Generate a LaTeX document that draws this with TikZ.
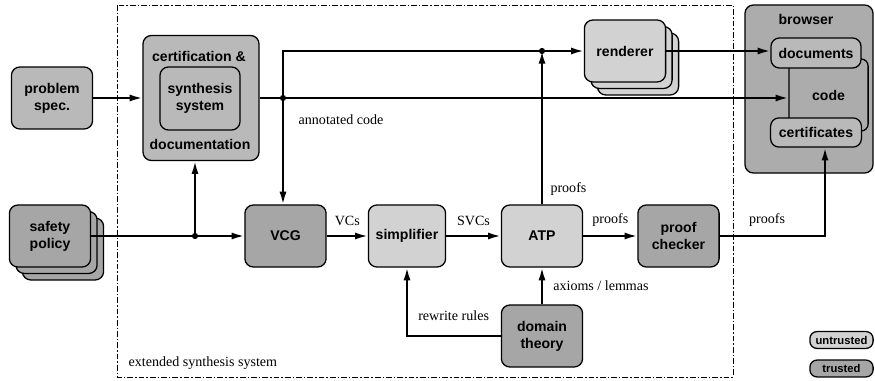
\documentclass[tikz,border=0pt]{standalone}
\usepackage{fontspec}
\setmainfont{Liberation Serif}
\setsansfont{Liberation Sans}
\usetikzlibrary{arrows.meta}

\tikzset{
  box/.style={draw, line width=0.9pt, rounded corners=6pt, font=\sffamily\bfseries, align=center, inner sep=2pt, minimum width=2.03cm, minimum height=1.55cm},
  untrusted/.style={box, fill=gray!35},
  trusted/.style={box, fill=gray!70},
  plain/.style={box, fill=gray!55},
  legend/.style={minimum width=1.58cm, minimum height=0.42cm, rounded corners=5pt, inner sep=1pt, font=\sffamily\bfseries\footnotesize},
  lbl/.style={font=\normalsize}
}

\begin{document}
\begin{tikzpicture}[x=0.025cm, y=-0.025cm, line width=0.05cm, >={Latex[length=9pt,width=5pt]}]
    \useasboundingbox (0,0) rectangle (875,381) ;
    \draw[dash pattern=on 4pt off 1.5pt on 1pt off 1.5pt, line width=0.6pt] (117,5) rectangle (733,377) ;
    \node[lbl, anchor=west] (ess) at (123,363) {extended synthesis system} ;

    \node[plain] (spec) at (52,98) {problem\\spec.} ;
    \node[plain, minimum width=2.9cm, minimum height=3.125cm] (cert) at (201,98) {} ;
    \node[plain, minimum width=2cm, minimum height=1.575cm] (synth) at (200,98.5) {synthesis\\system} ;
    \node[font=\sffamily\bfseries] (certl) at (199,56) {certification \&} ;
    \node[font=\sffamily\bfseries] (docl) at (200,144) {documentation} ;

    \node[untrusted] (renderer3) at (638,64) {} ;
    \node[untrusted] (renderer2) at (631.5,57.5) {} ;
    \node[untrusted] (renderer) at (625,51) {renderer} ;

    \node[box, fill=gray!65, minimum width=3.2cm, minimum height=4.2cm] (browser) at (809,89) {} ;
    \node[font=\sffamily\bfseries] (browserl) at (806,19) {browser} ;
    \node[draw, rounded corners=5pt, line width=0.9pt, minimum width=1.98cm, minimum height=1.8cm, font=\sffamily\bfseries] (code) at (828.5,95) {code} ;
    \node[box, fill=gray!55, minimum width=2.25cm, minimum height=0.75cm] (docs) at (816,53) {documents} ;
    \node[box, fill=gray!55, minimum width=2.27cm, minimum height=0.73cm] (certs) at (816,132.5) {certificates} ;

    \node[trusted] (safety3) at (63,249) {} ;
    \node[trusted] (safety2) at (56.5,242.5) {} ;
    \node[trusted] (safety) at (50,236) {safety\\policy} ;
    \node[trusted] (vcg) at (285.5,236) {VCG} ;
    \node[untrusted, minimum width=1.93cm] (simp) at (407,236) {simplifier} ;
    \node[untrusted] (atp) at (542,236) {ATP} ;
    \node[trusted] (checker) at (678.5,236) {proof\\checker} ;
    \node[trusted] (domain) at (542,336) {domain\\theory} ;

    \node[trusted, legend] (ltrusted) at (841.5,368.5) {trusted} ;
    \node[untrusted, legend] (luntrusted) at (841.5,340) {untrusted} ;

    \coordinate (ac) at (283,98) ;
    \coordinate (top) at (283,51) ;
    \coordinate (pr) at (atp.north |- renderer.west) ;
    \coordinate (sp) at (195,236) ;
    \coordinate (cb) at (825,236) ;
    \coordinate (rr) at (simp.south |- domain.west) ;

    \draw[->] (spec.east) -- (cert.west) ;
    \draw[->] (cert.east) -- (ac) -- (ac -| code.west) ;
    \node[lbl, anchor=west] (acl) at (293,120) {annotated code} ;
    \draw[->] (ac) -- (top) -- (pr) -- (renderer.west) ;
    \draw[->] (ac) -- (ac |- vcg.north) ;
    \draw[->] (renderer.east) -- (renderer.east -| docs.west) ;
    \draw[->] (safety.east) -- (sp) -- (vcg.west) ;
    \draw[->] (sp) -- (sp |- cert.south) ;
    \draw[->] (vcg.east) -- node[lbl, above=3pt] {VCs} (simp.west) ;
    \draw[->] (simp.east) -- node[lbl, above=3pt] {SVCs} (atp.west) ;
    \draw[->] (atp.east) -- node[lbl, above=3pt] {proofs} (checker.west) ;
    \draw[->] (atp.north) -- node[lbl, pos=0.1, right=2pt] {proofs} (pr) ;
    \draw[->] (checker.east) -- node[lbl, pos=0.45, above=3pt] {proofs} (cb) -- (cb |- certs.south) ;
    \draw[->] (domain.north) -- node[lbl, right=4pt] {axioms / lemmas} (atp.south) ;
    \draw[->] (domain.west) -- (rr) -- node[lbl, pos=0.3, right=4pt] {rewrite rules} (simp.south) ;
    \fill (ac) circle (2.2pt) (pr) circle (2.2pt) (sp) circle (2.2pt) ;
\end{tikzpicture}
\end{document}
